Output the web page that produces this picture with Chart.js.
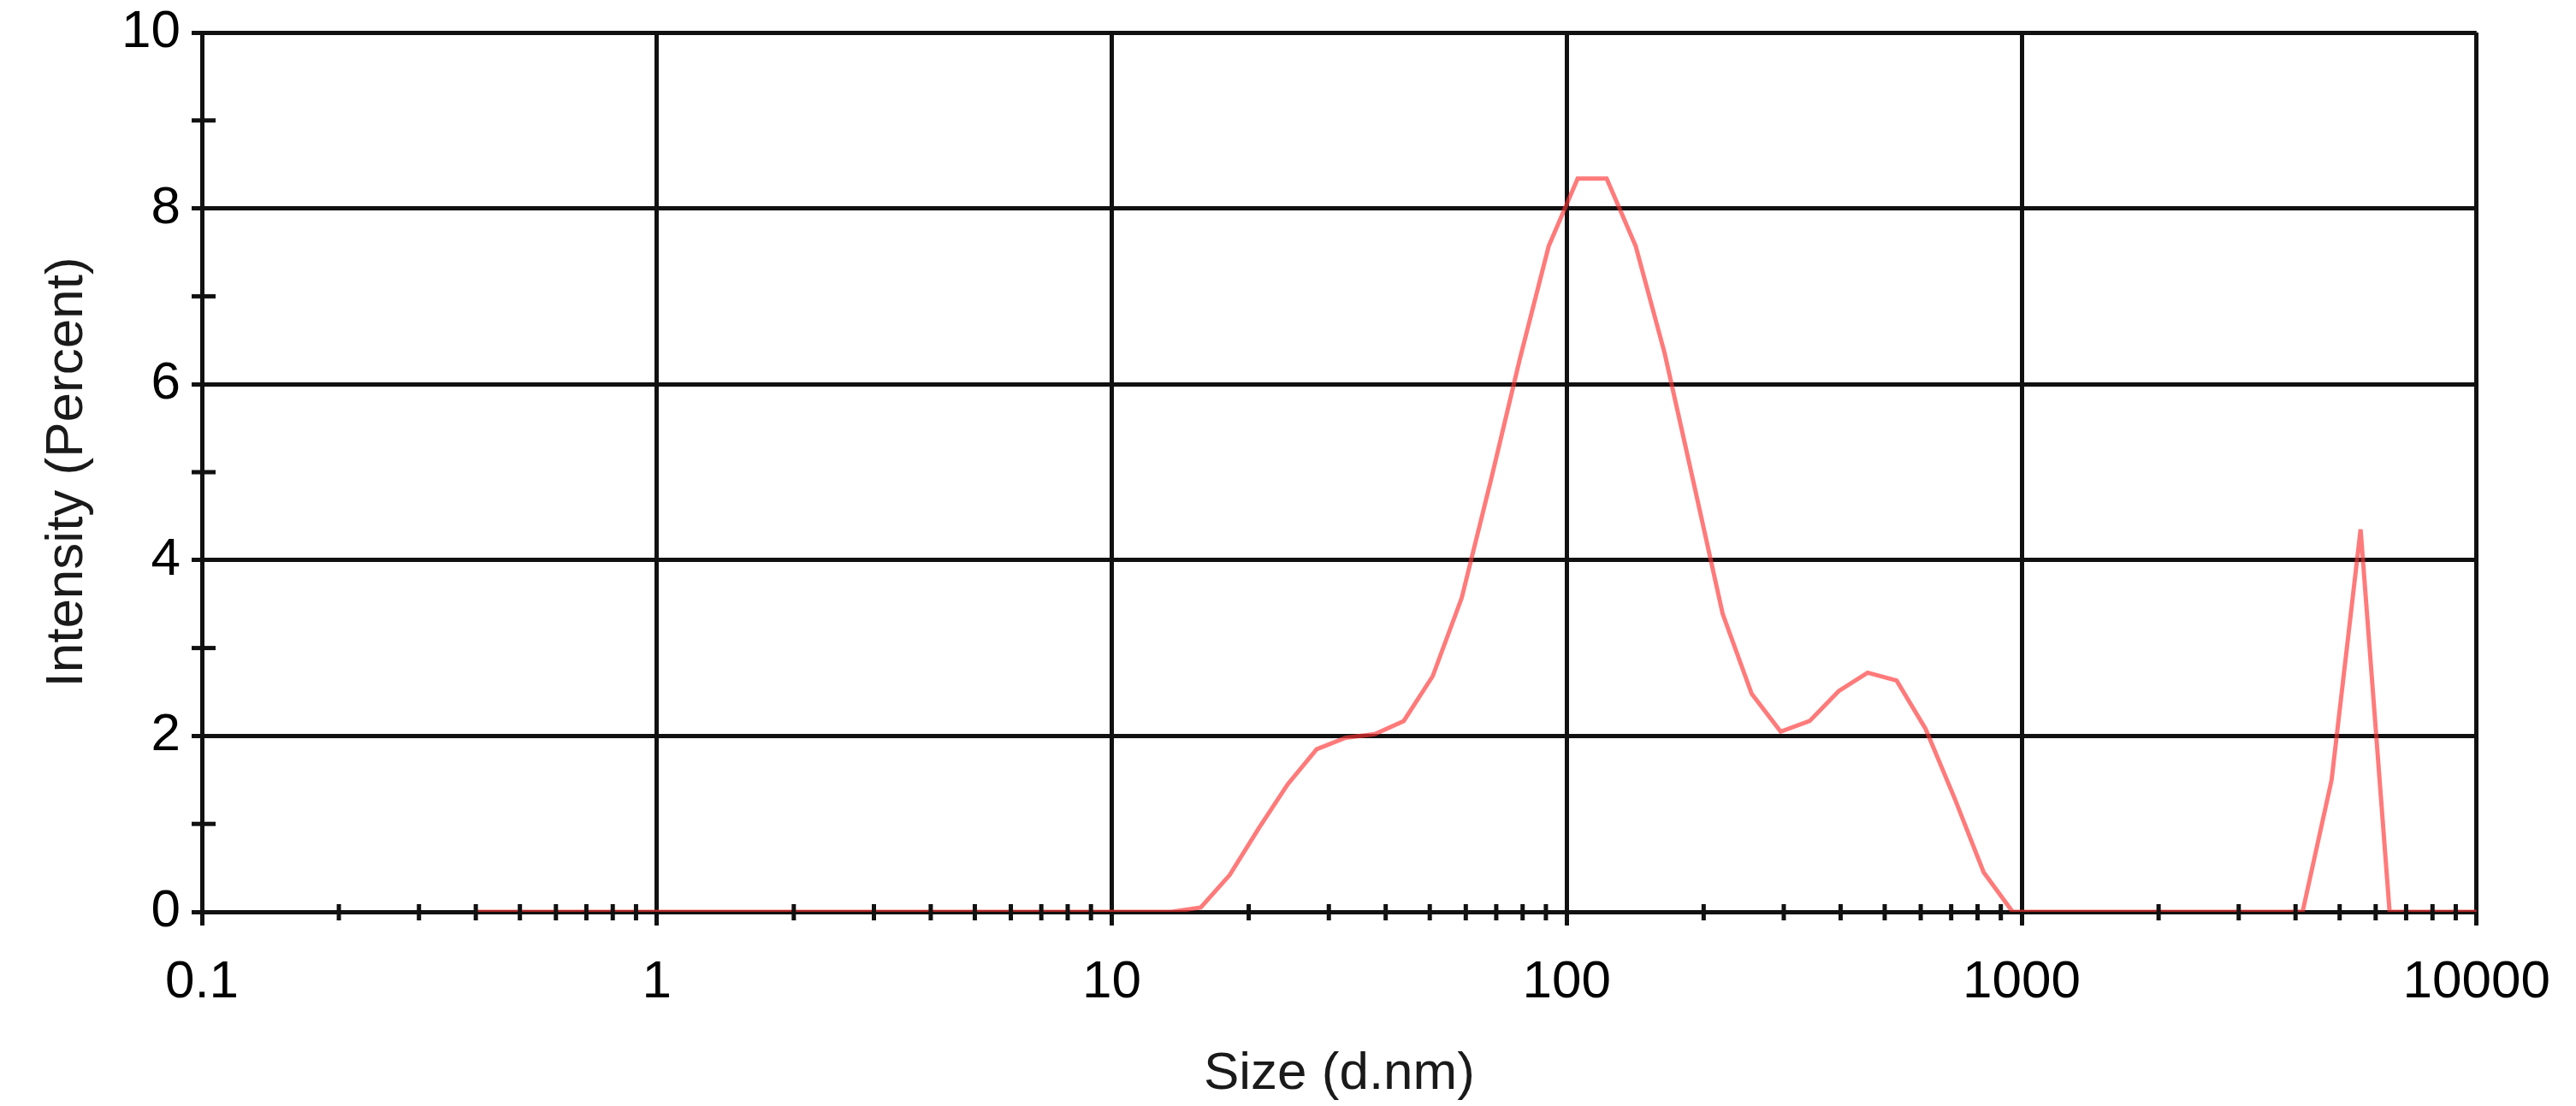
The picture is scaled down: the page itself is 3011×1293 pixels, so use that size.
<!DOCTYPE html>
<html>
<head>
<meta charset="utf-8">
<title>Size distribution by intensity</title>
<script src="https://cdn.jsdelivr.net/npm/chart.js@4.4.1/dist/chart.umd.min.js"></script>
<style>
    body { margin: 0; background: #fff; }
    #wrap { width: 3011px; height: 1293px; }
</style>
</head>
<body>
<div id="wrap"><canvas id="sizeChart" width="3011" height="1293"></canvas></div>
<script>
// size bins (d.nm) and intensity (%)
const sizes = [0.4, 0.4632, 0.5365, 0.6213, 0.7195, 0.8332, 0.9649, 1.117, 1.294, 1.499,
    1.736, 2.01, 2.328, 2.696, 3.122, 3.615, 4.187, 4.849, 5.615, 6.503,
    7.531, 8.721, 10.1, 11.7, 13.54, 15.69, 18.17, 21.04, 24.36, 28.21,
    32.67, 37.84, 43.82, 50.75, 58.77, 68.06, 78.82, 91.28, 105.7, 122.4,
    141.8, 164.2, 190.1, 220.2, 255.0, 295.3, 342.0, 396.1, 458.7, 531.2,
    615.1, 712.4, 825.0, 955.4, 1106, 1281, 1484, 1718, 1990, 2305,
    2669, 3091, 3580, 4145, 4801, 5560, 6439, 7456, 8635, 10000];
const intensity = [0, 0, 0, 0, 0, 0, 0, 0, 0, 0,
    0, 0, 0, 0, 0, 0, 0, 0, 0, 0,
    0, 0, 0, 0, 0, 0.05, 0.42, 0.95, 1.45, 1.85,
    1.98, 2.02, 2.17, 2.68, 3.57, 4.9, 6.28, 7.57, 8.34, 8.34,
    7.57, 6.35, 4.88, 3.39, 2.48, 2.05, 2.17, 2.51, 2.72, 2.63,
    2.08, 1.29, 0.45, 0, 0, 0, 0, 0, 0, 0,
    0, 0, 0, 0, 1.5, 4.35, 0, 0, 0, 0];

const xMajorTicks = [0.1, 1, 10, 100, 1000, 10000];
const yMinorTicks = [1, 3, 5, 7, 9];
const xMinorSteps = [2, 3, 4, 5, 6, 7, 8, 9];

const FONT = '"Liberation Sans", Arial, sans-serif';
const INK = '#111';

// small tick marks that sit across the axis lines
const minorTicks = {
    id: 'minorTicks',
    afterDraw(chart) {
        const ctx = chart.ctx;
        const x = chart.scales.x;
        const y = chart.scales.y;
        const area = chart.chartArea;
        ctx.save();
        ctx.strokeStyle = INK;
        ctx.lineWidth = 5;
        xMajorTicks.slice(0, -1).forEach(decade => {
            xMinorSteps.forEach(m => {
                const px = x.getPixelForValue(decade * m);
                ctx.beginPath();
                ctx.moveTo(px, area.bottom - 9);
                ctx.lineTo(px, area.bottom + 10);
                ctx.stroke();
            });
        });
        yMinorTicks.forEach(v => {
            const py = y.getPixelForValue(v);
            ctx.beginPath();
            ctx.moveTo(area.left - 12, py);
            ctx.lineTo(area.left + 16, py);
            ctx.stroke();
        });
        ctx.restore();
    }
};

const ctxSize = document.getElementById('sizeChart').getContext('2d');
const sizeChart = new Chart(ctxSize, {
    type: 'line',
    data: {
        datasets: [{
            label: 'Intensity',
            data: sizes.map((s, i) => ({ x: s, y: intensity[i] })),
            borderColor: 'rgba(255, 50, 50, 0.65)',
            borderWidth: 5,
            pointRadius: 0,
            tension: 0,
            fill: false
        }]
    },
    options: {
        responsive: false,
        animation: false,
        devicePixelRatio: 1,
        layout: {
            padding: { top: 38, right: 110, left: 0, bottom: 0 }
        },
        plugins: {
            legend: { display: false },
            tooltip: { enabled: false }
        },
        scales: {
            x: {
                type: 'logarithmic',
                min: 0.1,
                max: 10000,
                afterBuildTicks: scale => {
                    scale.ticks = xMajorTicks.map(v => ({ value: v }));
                },
                afterFit: scale => {
                    scale.height = 227;
                },
                grid: {
                    color: INK,
                    lineWidth: 5,
                    tickLength: 16,
                    tickColor: INK,
                    tickWidth: 5
                },
                border: { color: INK, width: 5 },
                ticks: {
                    autoSkip: false,
                    maxRotation: 0,
                    padding: 30,
                    color: '#000',
                    font: { family: FONT, size: 62 },
                    callback: value => String(value)
                },
                title: {
                    display: true,
                    text: 'Size (d.nm)',
                    color: '#1a1a1a',
                    font: { family: FONT, size: 62 },
                    padding: { top: 0, bottom: 0 }
                }
            },
            y: {
                min: 0,
                max: 10,
                afterFit: scale => {
                    scale.width = 236;
                },
                grid: {
                    color: INK,
                    lineWidth: 5,
                    tickLength: 12,
                    tickColor: INK,
                    tickWidth: 5
                },
                border: { color: INK, width: 5 },
                ticks: {
                    stepSize: 2,
                    padding: 13,
                    color: '#000',
                    font: { family: FONT, size: 62, lineHeight: 0.8 }
                },
                title: {
                    display: true,
                    text: 'Intensity (Percent)',
                    color: '#1a1a1a',
                    font: { family: FONT, size: 62 },
                    padding: { top: 42, bottom: 0 }
                }
            }
        }
    },
    plugins: [minorTicks]
});
</script>
</body>
</html>
